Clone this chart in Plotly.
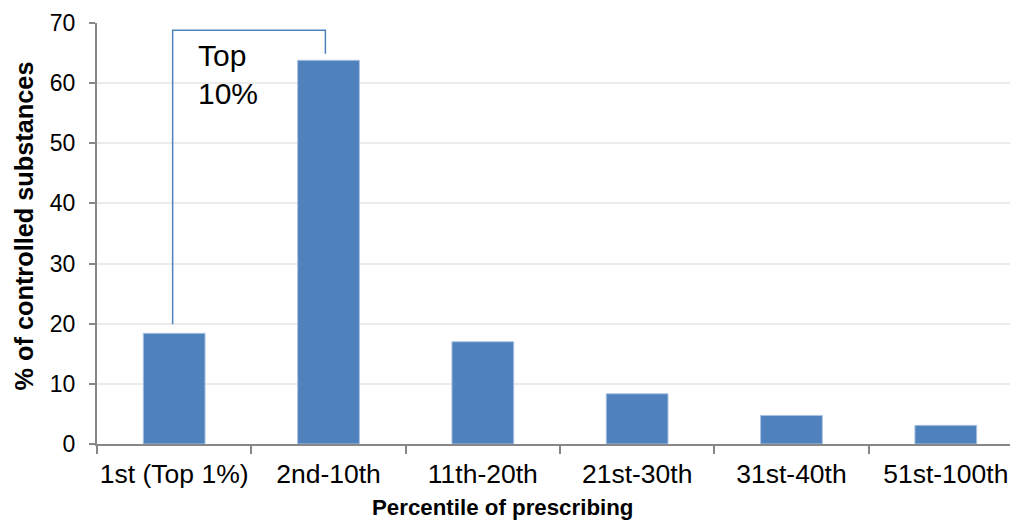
import plotly.graph_objects as go

# Share of controlled-substance prescriptions by prescriber percentile
categories = ["1st (Top 1%)", "2nd-10th", "11th-20th", "21st-30th", "31st-40th", "51st-100th"]
values = [18.4, 63.8, 17.0, 8.35, 4.75, 3.1]
y_ticks = [0, 10, 20, 30, 40, 50, 60, 70]

x_title = "Percentile of prescribing"
y_title = "% of controlled substances"

BAR_COLOR = "#4F81BD"
AXIS_COLOR = "#878787"
GRID_COLOR = "#EBEBEB"
FONT = "Arial, Liberation Sans, sans-serif"

fig = go.Figure(
    go.Bar(
        x=categories,
        y=values,
        width=0.4,
        marker=dict(color=BAR_COLOR, line=dict(color="#A9C1DF", width=1)),
        hoverinfo="x+y",
    )
)

# Bracket spanning the first two groups ("Top 10%")
top_y = 68.8
fig.add_shape(
    type="path",
    xref="x", yref="y",
    path=f"M -0.01 {values[0] + 1.5} L -0.01 {top_y} L 0.98 {top_y} L 0.98 {values[1] + 1.1}",
    line=dict(color=BAR_COLOR, width=1.5),
)
fig.add_annotation(x=0.14, y=64.6, xref="x", yref="y", text="Top", showarrow=False,
                   xanchor="left", yanchor="middle", font=dict(family=FONT, size=30, color="black"))
fig.add_annotation(x=0.14, y=58.3, xref="x", yref="y", text="10%", showarrow=False,
                   xanchor="left", yanchor="middle", font=dict(family=FONT, size=30, color="black"))

# Axis titles, placed relative to the whole chart
fig.add_annotation(x=0.4436, y=-0.15, xref="paper", yref="paper", text=f"<b>{x_title}</b>",
                   showarrow=False, xanchor="center", yanchor="middle",
                   font=dict(family=FONT, size=22.3, color="black"))
fig.add_annotation(x=-0.080, y=0.519, xref="paper", yref="paper", text=f"<b>{y_title}</b>",
                   showarrow=False, textangle=-90, xanchor="center", yanchor="middle",
                   font=dict(family=FONT, size=25.3, color="black"))

fig.update_layout(
    width=1010,
    height=527,
    margin=dict(l=97, r=0, t=23, b=83),
    paper_bgcolor="white",
    plot_bgcolor="white",
    showlegend=False,
    bargap=0.6,
    font=dict(family=FONT, color="black", size=23),
    xaxis=dict(
        type="category",
        range=[-0.5, 5.416],
        automargin=False,
        tickangle=0,
        tickson="boundaries",
        ticks="outside",
        ticklen=8,
        tickwidth=1.5,
        tickcolor=AXIS_COLOR,
        showline=True,
        linecolor=AXIS_COLOR,
        linewidth=2,
        showgrid=False,
        tickfont=dict(family=FONT, size=26.5, color="black"),
        ticklabelstandoff=5,
    ),
    yaxis=dict(
        range=[0, 70],
        automargin=False,
        tickvals=y_ticks,
        ticks="outside",
        ticklen=6,
        tickwidth=1.5,
        tickcolor=AXIS_COLOR,
        showline=True,
        linecolor=AXIS_COLOR,
        linewidth=2,
        showgrid=True,
        gridcolor=GRID_COLOR,
        gridwidth=1.5,
        zeroline=False,
        tickfont=dict(family=FONT, size=23, color="black"),
        ticklabelstandoff=9,
    ),
)

fig.write_html("out.html")
